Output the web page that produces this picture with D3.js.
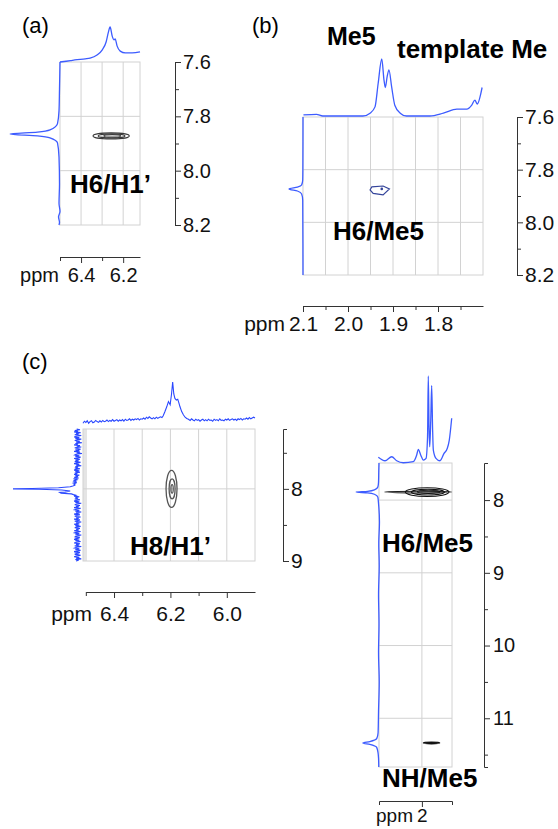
<!DOCTYPE html>
<html>
<head>
<meta charset="utf-8">
<script src="https://cdn.jsdelivr.net/npm/d3@7"></script>
<style>
  body { margin: 0; background: #fff; }
  text { font-family: "Liberation Sans", Arial, Helvetica, sans-serif; }
</style>
</head>
<body>
<svg id="fig" width="558" height="829"></svg>
<script>
// ---------- data (ppm, relative intensity) ----------

// (a) H6/H1'
const topA = [[6.5,0],[6.45,0.04],[6.43,0.06],[6.38,0.09],[6.357,0.11],[6.324,0.2],[6.3,0.34],[6.281,0.57],[6.271,0.83],[6.262,1.0],
  [6.252,0.74],[6.243,0.63],[6.238,0.66],[6.229,0.46],[6.214,0.31],[6.19,0.26],[6.157,0.26],[6.12,0.29]];
const sideA = [[7.6,0],[7.7,0.01],[7.78,0.02],[7.827,0.05],[7.85,0.2],[7.858,0.45],[7.865,1.0],[7.872,0.45],[7.879,0.2],[7.898,0.05],
  [7.95,0.02],[8.05,0.01],[8.12,0.02],[8.15,0.0],[8.17,0.03],[8.19,0.01],[8.2,0.02]];
const peaksA = [[6.257,7.872,0.086,0.011],[6.255,7.872,0.064,0.0075],[6.252,7.872,0.04,0.0045]];
const gridXA = [6.4, 6.3, 6.2], gridYA = [7.8, 8.0];
const ticksXA = [6.4, 6.2], minorXA = [6.5, 6.3];
const ticksYA = [7.6, 7.8, 8.0, 8.2], minorYA = [7.7, 7.9, 8.1];

// (b) H6/Me5
const topB = [[2.099,0.02],[2.07,0.03],[2.056,0],[2.003,0],[1.967,0],[1.951,0.05],[1.94,0.16],[1.933,0.57],[1.925,1.0],[1.92,0.63],
  [1.917,0.5],[1.913,0.69],[1.909,0.81],[1.903,0.51],[1.896,0.19],[1.884,0.05],[1.87,0],[1.818,0],[1.788,0.05],[1.758,0.12],
  [1.736,0.12],[1.725,0.19],[1.718,0.28],[1.713,0.21],[1.702,0.5]];
const sideB = [[7.6,0],[7.8,0.01],[7.839,0.02],[7.858,0.1],[7.866,0.4],[7.873,1.0],[7.881,0.4],[7.892,0.1],[7.915,0.02],[8.2,0]];
const contourB = [[1.951,7.877],[1.947,7.865],[1.922,7.862],[1.908,7.873],[1.922,7.896],[1.944,7.89]];
const dotB = [1.925, 7.873];
const gridXB = [2.05, 2.0, 1.95, 1.9, 1.85, 1.8, 1.75], gridYB = [7.8, 8.0];
const ticksXB = [2.1, 2.0, 1.9, 1.8], minorXB = [2.05, 1.95, 1.85, 1.75];
const ticksYB = [7.6, 7.8, 8.0, 8.2], minorYB = [7.7, 7.9, 8.1];

// (c) H8/H1'
const topC = [[6.51,-0.03],[6.505,0.02],[6.50,-0.01],[6.495,0.03],[6.49,-0.03],[6.485,0.01],[6.48,0.03],[6.475,-0.02],[6.47,0.0],[6.465,0.04],
  [6.46,0.01],[6.455,-0.01],[6.45,0.03],[6.445,0.0],[6.44,0.04],[6.435,0.01],[6.43,0.02],[6.425,0.05],[6.42,0.01],[6.415,0.04],
  [6.41,0.02],[6.405,0.06],[6.40,0.02],[6.395,0.04],[6.39,0.06],[6.385,0.02],[6.38,0.05],[6.375,0.03],[6.37,0.06],[6.365,0.02],
  [6.36,0.07],[6.355,0.04],[6.35,0.05],[6.345,0.08],[6.34,0.04],[6.335,0.07],[6.33,0.05],[6.325,0.08],[6.32,0.06],[6.315,0.09],
  [6.31,0.05],[6.305,0.08],[6.30,0.07],[6.295,0.1],[6.29,0.07],[6.285,0.12],[6.28,0.09],[6.275,0.13],[6.27,0.1],[6.265,0.08],
  [6.26,0.11],[6.255,0.08],[6.25,0.12],[6.245,0.09],[6.24,0.11],[6.235,0.13],[6.23,0.11],[6.226,0.15],[6.22,0.25],[6.213,0.38],
  [6.207,0.51],[6.201,0.43],[6.196,0.7],[6.192,1.0],[6.188,0.7],[6.184,0.59],[6.179,0.55],[6.174,0.57],[6.17,0.48],[6.166,0.38],
  [6.16,0.26],[6.154,0.18],[6.148,0.12],[6.142,0.09],[6.136,0.07],[6.13,0.04],[6.125,0.08],[6.12,0.05],[6.115,0.03],[6.11,0.07],
  [6.105,0.04],[6.10,0.06],[6.095,0.02],[6.09,0.05],[6.085,0.07],[6.08,0.03],[6.075,0.06],[6.07,0.03],[6.065,0.07],[6.06,0.04],
  [6.055,0.05],[6.05,0.02],[6.045,0.07],[6.04,0.04],[6.035,0.06],[6.03,0.03],[6.025,0.08],[6.02,0.04],[6.015,0.05],[6.01,0.03],
  [6.005,0.07],[6.0,0.05],[5.995,0.08],[5.99,0.04],[5.985,0.06],[5.98,0.08],[5.975,0.05],[5.97,0.07],[5.965,0.04],[5.96,0.08],
  [5.955,0.06],[5.95,0.09],[5.945,0.05],[5.94,0.08],[5.935,0.07],[5.93,0.1],[5.925,0.07],[5.92,0.11],[5.915,0.08],[5.91,0.1],[5.905,0.12],[5.90,0.1]];
const sideC = [[7.17,0.02],[7.18,-0.03],[7.19,0.05],[7.2,0.0],[7.21,0.06],[7.22,-0.04],[7.23,0.03],[7.24,-0.01],[7.25,0.05],[7.26,-0.05],
  [7.27,0.02],[7.28,0.06],[7.29,-0.02],[7.3,0.04],[7.31,-0.05],[7.32,0.01],[7.33,0.05],[7.34,-0.03],[7.35,0.03],[7.36,-0.06],
  [7.37,0.04],[7.38,0.0],[7.39,0.06],[7.4,-0.03],[7.41,0.02],[7.42,-0.05],[7.43,0.05],[7.44,0.01],[7.45,-0.04],[7.46,0.04],
  [7.47,-0.02],[7.48,0.06],[7.49,-0.03],[7.5,0.02],[7.51,-0.06],[7.52,0.03],[7.53,0.05],[7.54,-0.02],[7.55,0.04],[7.56,-0.04],
  [7.57,0.01],[7.58,0.06],[7.59,-0.03],[7.6,0.04],[7.61,-0.01],[7.62,0.05],[7.63,-0.04],[7.64,0.02],[7.65,0.06],[7.66,-0.02],
  [7.67,0.03],[7.68,-0.05],[7.69,0.04],[7.7,0.0],[7.71,0.05],[7.72,-0.03],[7.73,0.03],[7.74,0.06],[7.75,-0.02],[7.76,0.04],
  [7.77,-0.03],[7.78,0.05],[7.79,0.01],[7.8,0.06],[7.81,-0.02],[7.82,0.04],[7.83,0.0],[7.84,0.06],[7.85,-0.01],[7.86,0.05],
  [7.87,0.02],[7.88,0.07],[7.89,0.03],[7.9,0.06],[7.91,0.02],[7.92,0.07],[7.93,0.04],[7.94,0.06],[7.95,0.05],[7.96,0.08],
  [7.97,0.12],[7.985,0.3],[7.995,0.7],[8.0,1.0],[8.005,0.6],[8.015,0.25],[8.03,0.12],[8.045,0.2],[8.05,0.28],[8.06,0.26],
  [8.07,0.1],[8.08,0.07],[8.09,0.03],[8.1,0.06],[8.11,-0.02],[8.12,0.04],[8.13,0.0],[8.14,0.05],[8.15,-0.03],[8.16,0.03],
  [8.17,0.06],[8.18,-0.02],[8.19,0.04],[8.2,-0.05],[8.21,0.02],[8.22,0.05],[8.23,-0.03],[8.24,0.03],[8.25,-0.01],[8.26,0.06],
  [8.27,-0.04],[8.28,0.02],[8.29,0.05],[8.3,-0.02],[8.31,0.04],[8.32,-0.05],[8.33,0.03],[8.34,0.0],[8.35,0.06],[8.36,-0.03],
  [8.37,0.02],[8.38,0.05],[8.39,-0.04],[8.4,0.03],[8.41,-0.01],[8.42,0.06],[8.43,-0.03],[8.44,0.01],[8.45,0.05],[8.46,-0.05],
  [8.47,0.03],[8.48,0.0],[8.49,0.06],[8.5,-0.02],[8.51,0.04],[8.52,-0.04],[8.53,0.02],[8.54,0.05],[8.55,-0.03],[8.56,0.03],
  [8.57,-0.01],[8.58,0.06],[8.59,-0.04],[8.6,0.02],[8.61,0.05],[8.62,-0.02],[8.63,0.04],[8.64,-0.05],[8.65,0.01],[8.66,0.05],
  [8.67,-0.03],[8.68,0.03],[8.69,0.0],[8.7,0.06],[8.71,-0.02],[8.72,0.04],[8.73,-0.04],[8.74,0.02],[8.75,0.06],[8.76,-0.03],
  [8.77,0.03],[8.78,-0.01],[8.79,0.05],[8.8,-0.05],[8.81,0.02],[8.82,0.05],[8.83,-0.02],[8.84,0.04],[8.85,-0.04],[8.86,0.01],
  [8.87,0.06],[8.88,-0.03],[8.89,0.03],[8.9,0.0],[8.91,0.05],[8.92,-0.04],[8.93,0.02],[8.94,0.06],[8.95,-0.02],[8.96,0.03],
  [8.97,-0.05],[8.98,0.04],[8.99,-0.01],[9.0,0.03]];
const peaksC = [[6.196,8.0,0.0195,0.257],[6.194,8.0,0.0106,0.139],[6.194,8.0,0.004,0.06]];
const gridXC = [6.4, 6.3, 6.2, 6.1, 6.0], gridYC = [8];
const ticksXC = [6.4, 6.2, 6.0], minorXC = [6.5, 6.3, 6.1];
const ticksYC = [8, 9], minorYC = [7.5, 8.5];

// (d) H6/Me5 and NH/Me5
const topD = [[2.579,0.066],[2.49,0.026],[2.401,0.072],[2.335,0.026],[2.247,0.003],[2.114,0.015],[2.069,0.092],[2.048,0.157],[2.016,0.092],
  [1.981,0.034],[1.945,0.054],[1.925,0.3],[1.915,1.0],[1.905,0.4],[1.896,0.187],[1.882,0.5],[1.87,0.889],[1.858,0.4],[1.848,0.149],
  [1.813,0.054],[1.76,0.026],[1.706,0.11],[1.662,0.169],[1.636,0.264],[1.604,0.514]];
const sideD = [[7.49,0],[7.6,0.01],[7.75,0.02],[7.82,0.05],[7.86,0.2],[7.88,0.5],[7.89,1.0],[7.9,0.5],[7.92,0.2],[7.96,0.05],
  [8.05,0.02],[8.3,-0.02],[8.6,0.01],[8.9,-0.01],[9.3,0.02],[9.7,0.0],[10.1,0.02],[10.5,-0.01],[10.9,0.02],[11.2,0.04],
  [11.28,0.1],[11.32,0.4],[11.34,0.7],[11.36,0.4],[11.4,0.1],[11.48,0.04],[11.55,0.02],[11.67,0.01]];
const peaksD = [[2.05,7.89,0.445,0.012],[1.93,7.89,0.29,0.06],[1.92,7.89,0.22,0.04],[1.91,7.887,0.15,0.022],
  [1.872,11.34,0.11,0.012],[1.872,11.34,0.07,0.006]];
const gridXD = [2.0], gridYD = [8, 9, 10, 11];
const ticksXD = [2], minorXD = [];
const ticksYD = [8, 9, 10, 11], minorYD = [8.5, 9.5, 10.5, 11.5];

// ---------- drawing ----------
const svg = d3.select('#fig');
const gridColor = '#d2d2d2';
const blue = '#3d5cff';

function drawPanel(p) {
  const g = svg.append('g');
  const [x0, x1] = p.x.range();
  const [y0, y1] = p.y.range();

  // left gray strip (only c)
  if (p.strip) {
    g.append('rect').attr('x', x0).attr('y', y0).attr('width', p.strip).attr('height', y1 - y0).attr('fill', '#e4e4e4');
  }

  // grid + frame
  g.selectAll(null).data(p.gridX).join('line')
    .attr('x1', d => p.x(d)).attr('x2', d => p.x(d)).attr('y1', y0).attr('y2', y1)
    .attr('stroke', gridColor);
  g.selectAll(null).data(p.gridY).join('line')
    .attr('x1', x0).attr('x2', x1).attr('y1', d => p.y(d)).attr('y2', d => p.y(d))
    .attr('stroke', gridColor);
  g.append('rect').attr('x', x0).attr('y', y0).attr('width', x1 - x0).attr('height', y1 - y0)
    .attr('fill', 'none').attr('stroke', gridColor);

  // contours
  if (p.peaks) {
    g.selectAll(null).data(p.peaks).join('ellipse')
      .attr('cx', d => p.x(d[0])).attr('cy', d => p.y(d[1]))
      .attr('rx', d => Math.abs(p.x(d[0] + d[2]) - p.x(d[0])))
      .attr('ry', d => Math.abs(p.y(d[1] + d[3]) - p.y(d[1])))
      .attr('fill', 'none').attr('stroke', p.peakColor).attr('stroke-width', p.peakWidth || 1);
  }

  // 1D projections
  const ti = d3.scaleLinear().domain([0, 1]).range(p.topRange);
  const si = d3.scaleLinear().domain([0, 1]).range(p.sideRange);
  g.append('path').datum(p.top)
    .attr('d', d3.line().x(d => p.x(d[0])).y(d => ti(d[1])).curve(p.noisy ? d3.curveLinear : d3.curveMonotoneX))
    .attr('fill', 'none').attr('stroke', p.color).attr('stroke-width', p.lineWidth);
  g.append('path').datum(p.side)
    .attr('d', d3.line().x(d => si(d[1])).y(d => p.y(d[0])).curve(p.noisy ? d3.curveLinear : d3.curveMonotoneY))
    .attr('fill', 'none').attr('stroke', p.color).attr('stroke-width', p.lineWidth);

  // right (F1) axis
  const yTicks = p.ticksY.concat(p.minorY);
  const ra = g.append('g').attr('transform', `translate(${p.axisRightX},0)`)
    .call(d3.axisRight(p.y).tickValues(yTicks).tickSize(p.tickLen).tickSizeOuter(4).tickPadding(p.padY)
      .tickFormat(d => p.ticksY.includes(d) ? p.fmtY(d) : ''));
  ra.selectAll('.tick line').attr('x2', d => p.ticksY.includes(d) ? p.tickLen : 4);
  ra.attr('font-family', null).attr('font-size', p.fsY);
  ra.selectAll('path, line').attr('stroke', '#333');
  ra.selectAll('text').attr('fill', '#111');

  // bottom (F2) axis
  const xa = p.x.copy().domain(p.axisXDomain).range(p.axisXDomain.map(p.x));
  const xTicks = p.ticksX.concat(p.minorX);
  const ba = g.append('g').attr('transform', `translate(0,${p.axisBottomY})`)
    .call(d3.axisBottom(xa).tickValues(xTicks).tickSize(p.tickLen).tickSizeOuter(p.outerX || 0).tickPadding(p.padX)
      .tickFormat(d => p.ticksX.includes(d) ? p.fmtX(d) : ''));
  ba.selectAll('.tick line').attr('y2', d => p.ticksX.includes(d) ? p.tickLen : 4);
  ba.attr('font-family', null).attr('font-size', p.fsX);
  ba.selectAll('path, line').attr('stroke', '#333');
  ba.selectAll('text').attr('fill', '#111');
  g.append('text').attr('x', p.ppmX).attr('y', p.axisBottomY + p.tickLen + p.padX + 0.71 * p.fsX)
    .attr('text-anchor', 'end').attr('font-size', p.fsX).attr('fill', '#111').text('ppm');
  return g;
}

const f1 = d3.format('.1f'), f0 = d3.format('d');

// (a)
drawPanel({
  x: d3.scaleLinear().domain([6.5, 6.12]).range([60, 140]),
  y: d3.scaleLinear().domain([7.6, 8.2]).range([62, 225]),
  gridX: gridXA, gridY: gridYA, top: topA, side: sideA,
  topRange: [62, 27], sideRange: [60, 10], color: blue, lineWidth: 1.3,
  peaks: peaksA, peakColor: '#3a3a3a', peakWidth: 1.1,
  ticksY: ticksYA, minorY: minorYA, ticksX: ticksXA, minorX: minorXA,
  axisRightX: 175, axisBottomY: 257, axisXDomain: [6.5, 6.12],
  tickLen: 6, padY: 2, padX: 5, fsY: 20, fsX: 20, fmtX: f1, fmtY: f1, ppmX: 59
});

// (b)
const gB = drawPanel({
  x: d3.scaleLinear().domain([2.1, 1.7]).range([303, 483]),
  y: d3.scaleLinear().domain([7.6, 8.2]).range([117, 275]),
  gridX: gridXB, gridY: gridYB, top: topB, side: sideB,
  topRange: [116, 59], sideRange: [303, 289], color: blue, lineWidth: 1.3,
  ticksY: ticksYB, minorY: minorYB, ticksX: ticksXB, minorX: minorXB,
  axisRightX: 517, axisBottomY: 306, axisXDomain: [2.1, 1.7],
  tickLen: 6, padY: 2, padX: 4, fsY: 21, fsX: 21, fmtX: f1, fmtY: f1, ppmX: 285
});
{
  const xB = d3.scaleLinear().domain([2.1, 1.7]).range([303, 483]);
  const yB = d3.scaleLinear().domain([7.6, 8.2]).range([117, 275]);
  gB.append('path').datum(contourB)
    .attr('d', d3.line().x(d => xB(d[0])).y(d => yB(d[1])).curve(d3.curveLinearClosed))
    .attr('fill', 'none').attr('stroke', '#34449a').attr('stroke-width', 1.2);
  gB.append('circle').attr('cx', xB(dotB[0])).attr('cy', yB(dotB[1])).attr('r', 1.3).attr('fill', '#34449a');
}

// (c)
drawPanel({
  x: d3.scaleLinear().domain([6.51, 5.9]).range([83, 255]),
  y: d3.scaleLinear().domain([7.17, 9.0]).range([429, 561]),
  gridX: gridXC, gridY: gridYC, top: topC, side: sideC, noisy: true, strip: 4,
  topRange: [422, 382], sideRange: [78, 13], color: '#2a48ff', lineWidth: 1.1,
  peaks: peaksC, peakColor: '#555', peakWidth: 1.3,
  ticksY: ticksYC, minorY: minorYC, ticksX: ticksXC, minorX: minorXC,
  axisRightX: 283, axisBottomY: 592, axisXDomain: [6.5, 5.9],
  tickLen: 6, padY: 2, padX: 8, fsY: 21, fsX: 21, fmtX: f1, fmtY: f0, ppmX: 92
});

// (d)
drawPanel({
  x: d3.scaleLinear().domain([2.57, 1.6]).range([379, 452]),
  y: d3.scaleLinear().domain([7.49, 11.67]).range([463, 767]),
  gridX: gridXD, gridY: gridYD, top: topD, side: sideD,
  topRange: [463, 376], sideRange: [379, 356], color: blue, lineWidth: 1.3,
  peaks: peaksD, peakColor: '#111', peakWidth: 1.1,
  ticksY: ticksYD, minorY: minorYD, ticksX: ticksXD, minorX: minorXD, outerX: 4,
  axisRightX: 484, axisBottomY: 801, axisXDomain: [2.57, 1.6],
  tickLen: 6, padY: 3, padX: 2, fsY: 20, fsX: 19, fmtX: f0, fmtY: f0, ppmX: 413
});

// ---------- labels ----------
const labels = [
  ['(a)', 22, 33, 22, 'normal'],
  ['(b)', 252, 33, 22, 'normal'],
  ['(c)', 22, 369, 22, 'normal'],
  ['Me5', 327, 45, 25, 'bold'],
  ['template Me', 397, 58, 26, 'bold'],
  ['H6/H1\u2019', 70, 193, 26, 'bold'],
  ['H6/Me5', 333, 240, 26, 'bold'],
  ['H8/H1\u2019', 130, 555, 26, 'bold'],
  ['H6/Me5', 382, 552, 26, 'bold'],
  ['NH/Me5', 382, 787, 26, 'bold']
];
svg.selectAll('text.lbl').data(labels).join('text')
  .attr('class', 'lbl')
  .attr('x', d => d[1]).attr('y', d => d[2])
  .attr('font-size', d => d[3]).attr('font-weight', d => d[4])
  .attr('fill', '#000')
  .text(d => d[0]);
</script>
</body>
</html>
